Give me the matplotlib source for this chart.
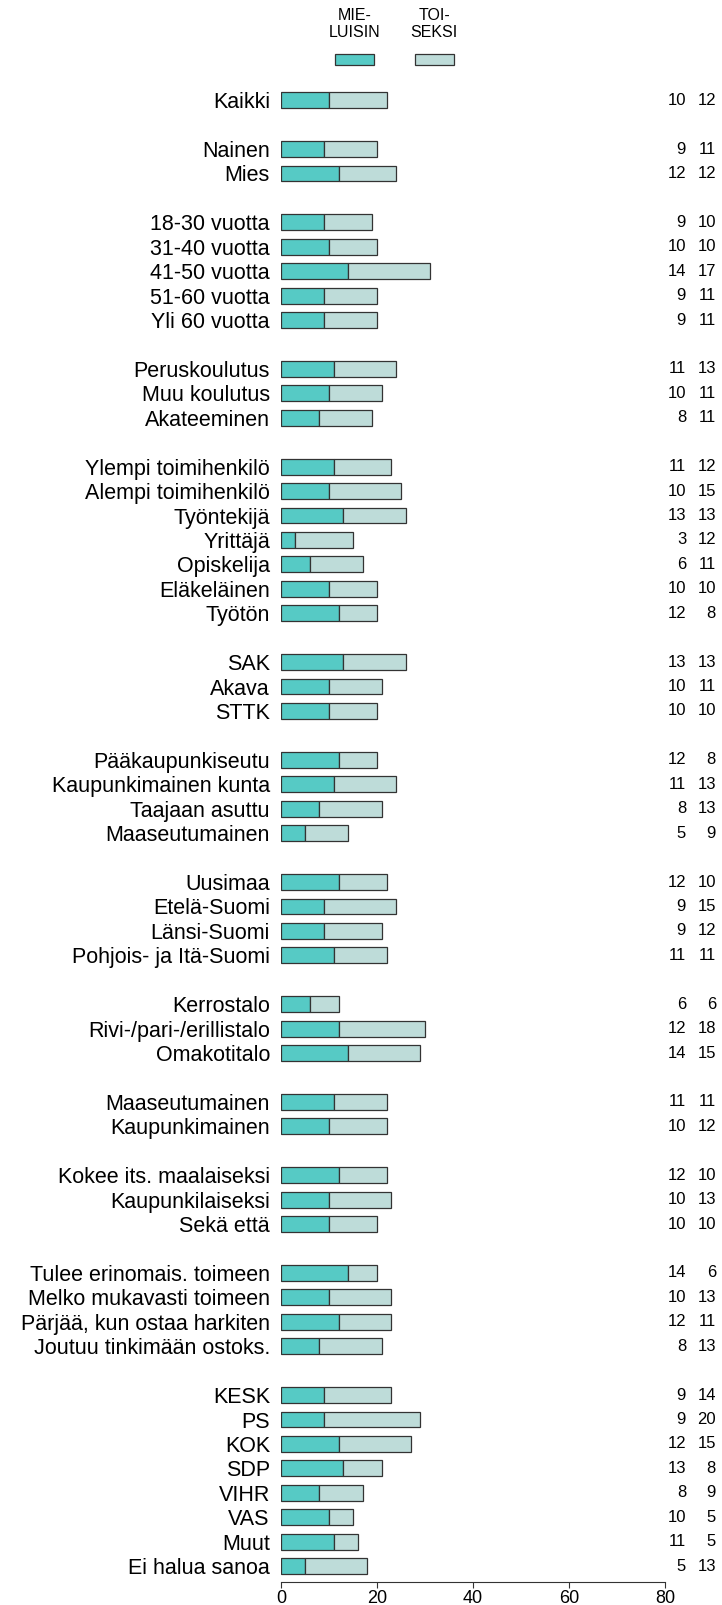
import matplotlib
matplotlib.use("Agg")
import matplotlib.pyplot as plt
from matplotlib.patches import Rectangle

plt.rcParams['font.family'] = ['Liberation Sans', 'DejaVu Sans']

# groups of categories (blank row between groups)
groups = [
    ["Kaikki"],
    ["Nainen", "Mies"],
    ["18-30 vuotta", "31-40 vuotta", "41-50 vuotta", "51-60 vuotta", "Yli 60 vuotta"],
    ["Peruskoulutus", "Muu koulutus", "Akateeminen"],
    ["Ylempi toimihenkilö", "Alempi toimihenkilö", "Työntekijä", "Yrittäjä",
     "Opiskelija", "Eläkeläinen", "Työtön"],
    ["SAK", "Akava", "STTK"],
    ["Pääkaupunkiseutu", "Kaupunkimainen kunta", "Taajaan asuttu", "Maaseutumainen"],
    ["Uusimaa", "Etelä-Suomi", "Länsi-Suomi", "Pohjois- ja Itä-Suomi"],
    ["Kerrostalo", "Rivi-/pari-/erillistalo", "Omakotitalo"],
    ["Maaseutumainen", "Kaupunkimainen"],
    ["Kokee its. maalaiseksi", "Kaupunkilaiseksi", "Sekä että"],
    ["Tulee erinomais. toimeen", "Melko mukavasti toimeen",
     "Pärjää, kun ostaa harkiten", "Joutuu tinkimään ostoks."],
    ["KESK", "PS", "KOK", "SDP", "VIHR", "VAS", "Muut", "Ei halua sanoa"],
]

mieluisin = [10,
             9, 12,
             9, 10, 14, 9, 9,
             11, 10, 8,
             11, 10, 13, 3, 6, 10, 12,
             13, 10, 10,
             12, 11, 8, 5,
             12, 9, 9, 11,
             6, 12, 14,
             11, 10,
             12, 10, 10,
             14, 10, 12, 8,
             9, 9, 12, 13, 8, 10, 11, 5]

toiseksi = [12,
            11, 12,
            10, 10, 17, 11, 11,
            13, 11, 11,
            12, 15, 13, 12, 11, 10, 8,
            13, 11, 10,
            8, 13, 13, 9,
            10, 15, 12, 11,
            6, 18, 15,
            11, 12,
            10, 13, 10,
            6, 13, 11, 13,
            14, 20, 15, 8, 9, 5, 5, 13]

legend_labels = ["MIE-\nLUISIN", "TOI-\nSEKSI"]

c1 = "#56cac5"
c2 = "#bedcd9"
edge = "#333333"

# row positions with a blank row between groups
labels = []
ypos = []
row = 0
for g in groups:
    for name in g:
        labels.append(name)
        ypos.append(row)
        row += 1
    row += 1

fig = plt.figure(figsize=(7.22, 16.05), dpi=100)
ax = fig.add_axes([281 / 722, 23 / 1605, 384 / 722, 1582 / 1605])

h = 0.65
ax.barh(ypos, mieluisin, height=h, color=c1, edgecolor=edge, linewidth=0.9)
ax.barh(ypos, toiseksi, left=mieluisin, height=h, color=c2, edgecolor=edge, linewidth=0.9)

for y, a, b in zip(ypos, mieluisin, toiseksi):
    ax.text(84.4, y, str(a), ha='right', va='center', fontsize=12, clip_on=False)
    ax.text(90.6, y, str(b), ha='right', va='center', fontsize=12, clip_on=False)

# legend drawn above the first row
for (x0, x1), lab, col in zip([(11.3, 19.4), (27.9, 36.0)], legend_labels, [c1, c2]):
    ax.add_patch(Rectangle((x0, -1.66 - 0.22), x1 - x0, 0.44, facecolor=col,
                           edgecolor=edge, linewidth=0.9, clip_on=False))
    ax.text((x0 + x1) / 2, -3.12, lab, ha='center', va='center', fontsize=11.5,
            linespacing=1.15, clip_on=False)

ax.set_xlim(0, 80)
ax.set_ylim(60.65, -4.1)
ax.set_yticks(ypos)
ax.set_yticklabels(labels, fontsize=15.5)
ax.tick_params(axis='y', length=0, pad=8)
ax.set_xticks([0, 20, 40, 60, 80])
ax.tick_params(axis='x', length=4, width=0.8, pad=2, labelsize=13, color="#333333")
for s in ['left', 'top', 'right']:
    ax.spines[s].set_visible(False)
ax.spines['bottom'].set_bounds(0, 80)
ax.spines['bottom'].set_color("#333333")
ax.patch.set_visible(False)

fig.savefig("out.png", dpi=100)
